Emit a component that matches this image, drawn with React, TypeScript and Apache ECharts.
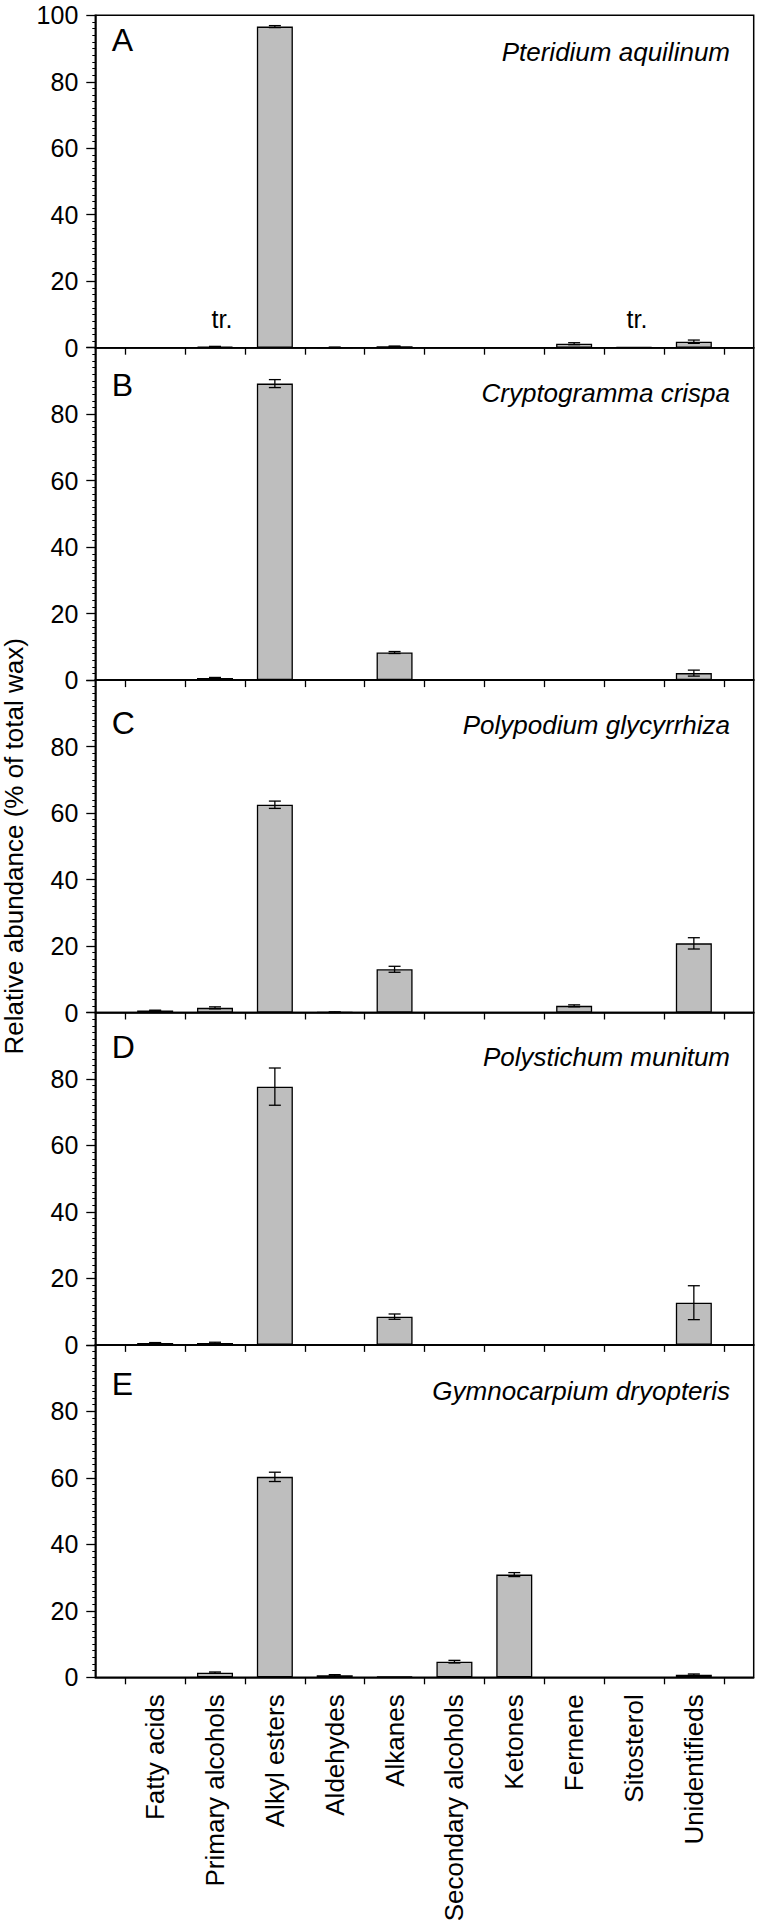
import React, { useEffect, useRef } from "react";
import * as echarts from "echarts";

const CATEGORIES = [
  "Fatty acids",
  "Primary alcohols",
  "Alkyl esters",
  "Aldehydes",
  "Alkanes",
  "Secondary alcohols",
  "Ketones",
  "Fernene",
  "Sitosterol",
  "Unidentifieds",
];
const PANEL_LETTERS = ["A", "B", "C", "D", "E"];
const SPECIES = [
  "Pteridium aquilinum",
  "Cryptogramma crispa",
  "Polypodium glycyrrhiza",
  "Polystichum munitum",
  "Gymnocarpium dryopteris",
];
const Y_TITLE = "Relative abundance (% of total wax)";
const TRACE_LABEL = "tr.";

// mean values (% of total wax), null = not detected
const VALUES_A = [null, 0.3, 96.6, 0.1, 0.4, null, null, 1.2, 0.2, 1.8];
const VALUES_B = [null, 0.6, 89.2, null, 8.3, null, null, null, null, 2.1];
const VALUES_C = [0.6, 1.4, 62.5, 0.1, 13.0, null, null, 2.0, null, 20.8];
const VALUES_D = [0.6, 0.6, 77.7, null, 8.5, null, null, null, null, 12.7];
const VALUES_E = [null, 1.4, 60.3, 0.6, 0.2, 4.7, 30.9, null, null, 0.8];

// standard errors
const ERRORS_A = [0, 0.1, 0.3, 0.1, 0.1, 0, 0, 0.3, 0, 0.5];
const ERRORS_B = [0, 0.2, 1.2, 0, 0.3, 0, 0, 0, 0, 0.9];
const ERRORS_C = [0.1, 0.3, 1.1, 0.1, 0.9, 0, 0, 0.3, 0, 1.7];
const ERRORS_D = [0.1, 0.2, 5.6, 0, 0.8, 0, 0, 0, 0, 5.1];
const ERRORS_E = [0, 0.2, 1.4, 0.2, 0, 0.4, 0.6, 0, 0, 0.2];

// categories marked as traces ("tr.") per panel
const TRACES_A = [1, 8];
const TRACES_B: number[] = [];
const TRACES_C: number[] = [];
const TRACES_D: number[] = [];
const TRACES_E: number[] = [];

const Y_TICK_INTERVAL = 20;

const PANEL_VALUES = [VALUES_A, VALUES_B, VALUES_C, VALUES_D, VALUES_E];
const PANEL_ERRORS = [ERRORS_A, ERRORS_B, ERRORS_C, ERRORS_D, ERRORS_E];
const PANEL_TRACES = [TRACES_A, TRACES_B, TRACES_C, TRACES_D, TRACES_E];

// layout
const FONT = "'Liberation Sans', Arial, Helvetica, sans-serif";
const TOP0 = 15.3;
const PANEL_H = 332.4;
const LEFT = 95.3;
const RIGHT = 6.3;
const LETTER_DY = [24.7, 37.5, 43, 34, 38.6];
const SPECIES_DY = [36.4, 45.5, 45, 44.7, 45.6];
const TRACE_OFFSET_X = [7, 3];

export default function App() {
  const ref = useRef<HTMLDivElement>(null);

  useEffect(() => {
    document.body.style.margin = "0";
    if (!ref.current) return;
    const chart = echarts.init(ref.current, undefined, { renderer: "svg" });

    const n = PANEL_VALUES.length;
    const tickValues = CATEGORIES.map((_, k) => k - 0.5).concat([CATEGORIES.length - 0.5]);
    const labelValues = CATEGORIES.map((_, k) => k);

    const grids = PANEL_VALUES.map((_, i) => ({
      left: LEFT,
      right: RIGHT,
      top: TOP0 + i * PANEL_H,
      height: PANEL_H,
      show: true,
      borderColor: "#000",
      borderWidth: 1.5,
      backgroundColor: "transparent",
    }));

    const xAxes = PANEL_VALUES.map((_, i) => ({
      type: "value",
      gridIndex: i,
      min: -1,
      max: CATEGORIES.length,
      splitLine: { show: false },
      axisLine: { show: true, onZero: false, lineStyle: { color: "#000", width: 1.5 } },
      axisTick: {
        show: true,
        inside: false,
        length: 7,
        customValues: tickValues,
        lineStyle: { color: "#000", width: 1.3 },
      },
      axisLabel: {
        show: i === n - 1,
        customValues: labelValues,
        rotate: 90,
        margin: 17,
        fontSize: 26,
        color: "#000",
        fontFamily: FONT,
        formatter: (v: number) => CATEGORIES[Math.round(v)] ?? "",
      },
    }));

    const yAxes = PANEL_VALUES.map((_, i) => ({
      type: "value",
      gridIndex: i,
      position: "left",
      min: 0,
      max: 100,
      interval: Y_TICK_INTERVAL,
      splitLine: { show: false },
      axisLine: { show: true, onZero: false, lineStyle: { color: "#000", width: 1.5 } },
      axisTick: { show: true, inside: false, length: 9, lineStyle: { color: "#000", width: 1.3 } },
      minorTick: { show: true, splitNumber: 10, length: 3, lineStyle: { color: "#000", width: 1 } },
      minorSplitLine: { show: false },
      axisLabel: {
        margin: 17,
        fontSize: 25,
        color: "#000",
        fontFamily: FONT,
        formatter: (v: number) => (i > 0 && v === 100 ? "" : String(v)),
      },
    }));

    const series: any[] = [];
    PANEL_VALUES.forEach((vals, i) => {
      const traces = PANEL_TRACES[i];
      const barData = vals
        .map((v, k) => {
          if (v == null) return null;
          const tIdx = traces.indexOf(k);
          const item: any = { value: [k, v] };
          if (tIdx >= 0) {
            item.label = {
              show: true,
              position: "top",
              distance: 15,
              formatter: TRACE_LABEL,
              fontSize: 25,
              color: "#000",
              fontFamily: FONT,
              offset: [TRACE_OFFSET_X[tIdx] ?? 0, 0],
            };
          }
          return item;
        })
        .filter((d) => d !== null);
      series.push({
        type: "bar",
        xAxisIndex: i,
        yAxisIndex: i,
        barWidth: 36,
        data: barData,
        itemStyle: { color: "#BEBEBE", borderColor: "#000", borderWidth: 1.3 },
        z: 3,
      });
      const errs = PANEL_ERRORS[i];
      const errData = vals
        .map((v, k) => (v != null && errs[k] > 0 ? [k, Math.max(0, v - errs[k]), v + errs[k]] : null))
        .filter((d) => d !== null);
      series.push({
        type: "custom",
        xAxisIndex: i,
        yAxisIndex: i,
        data: errData,
        encode: { x: 0, y: [1, 2] },
        z: 4,
        renderItem: (_p: any, api: any) => {
          const x = api.value(0);
          const top = api.coord([x, api.value(2)]);
          const bot = api.coord([x, api.value(1)]);
          const w = 6;
          const style = { stroke: "#000", lineWidth: 1.3 };
          return {
            type: "group",
            children: [
              { type: "line", shape: { x1: top[0], y1: top[1], x2: bot[0], y2: bot[1] }, style },
              { type: "line", shape: { x1: top[0] - w, y1: top[1], x2: top[0] + w, y2: top[1] }, style },
              { type: "line", shape: { x1: bot[0] - w, y1: bot[1], x2: bot[0] + w, y2: bot[1] }, style },
            ],
          };
        },
      });
    });

    const graphics: any[] = [];
    PANEL_LETTERS.forEach((letter, i) => {
      const top = TOP0 + i * PANEL_H;
      graphics.push({
        type: "text",
        x: LEFT + 16.5,
        y: top + LETTER_DY[i],
        style: {
          text: letter,
          font: `32px ${FONT}`,
          fill: "#000",
          align: "left",
          verticalAlign: "middle",
        },
      });
      graphics.push({
        type: "text",
        x: 760 - RIGHT - 23.7,
        y: top + SPECIES_DY[i],
        style: {
          text: SPECIES[i],
          font: `italic 26px ${FONT}`,
          fill: "#000",
          align: "right",
          verticalAlign: "middle",
        },
      });
    });
    graphics.push({
      type: "text",
      x: 14.3,
      y: TOP0 + (n * PANEL_H) / 2,
      rotation: Math.PI / 2,
      style: {
        text: Y_TITLE,
        font: `26px ${FONT}`,
        fill: "#000",
        align: "center",
        verticalAlign: "middle",
      },
    });

    chart.setOption({
      animation: false,
      backgroundColor: "#fff",
      grid: grids,
      xAxis: xAxes,
      yAxis: yAxes,
      series,
      graphic: graphics,
    });

    return () => {
      chart.dispose();
    };
  }, []);

  return <div ref={ref} style={{ width: 760, height: 1928 }} />;
}
